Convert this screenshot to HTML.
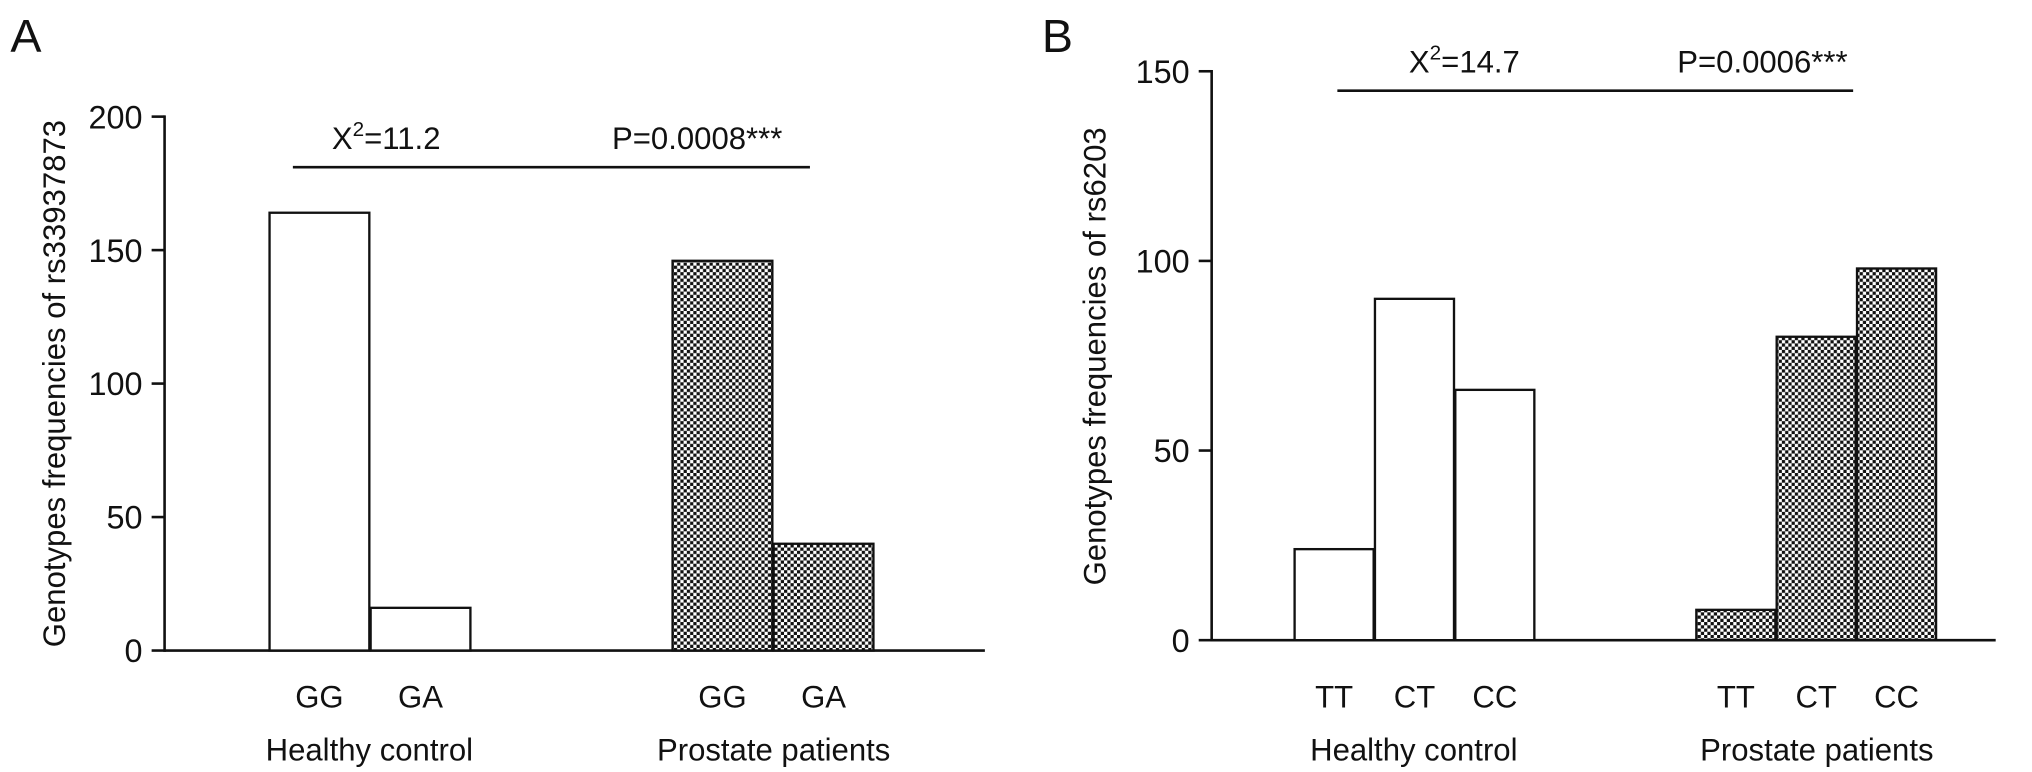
<!DOCTYPE html>
<html><head><meta charset="utf-8"><style>
html,body{margin:0;padding:0;background:#fff;}
svg{display:block;font-family:"Liberation Sans",Arial,sans-serif;}
</style></head><body>
<svg id="fig" width="2032" height="772" viewBox="0 0 2032 772" xmlns="http://www.w3.org/2000/svg">
<defs>
<pattern id="chk" width="5" height="5" patternUnits="userSpaceOnUse">
<rect width="5" height="5" fill="#fff"/>
<rect width="2.5" height="2.5" fill="#111"/>
<rect x="2.5" y="2.5" width="2.5" height="2.5" fill="#111"/>
</pattern>
</defs>
<g id="root" transform="scale(1.2959)"></g>
</svg>
<script>
const NS='http://www.w3.org/2000/svg';
const svg=document.getElementById('root');
// Panel A data
const aCats=['GG','GA','GG','GA'];
const aValues=[164,16,146,40];
const aTicks=[0,50,100,150,200];
// Panel B data
const bCats=['TT','CT','CC','TT','CT','CC'];
const bValues=[24,90,66,8,80,98];
const bTicks=[0,50,100,150];

function el(tag,attrs,parent){const e=document.createElementNS(NS,tag);for(const k in attrs)e.setAttribute(k,attrs[k]);(parent||svg).appendChild(e);return e;}
function txt(x,y,s,size,anchor,parent){const t=el('text',{x:x,y:y,'font-size':size,'text-anchor':anchor||'middle',fill:'#111'},parent);t.textContent=s;return t;}

function panel(cfg){
  const g=el('g',{});
  
  
  const y=v=>cfg.y0-(v/cfg.max)*(cfg.y0-cfg.yTop);
  const lt=txt(cfg.letterX,40,cfg.letter,36,'start',g);
  
  
  const ya=el('line',{x1:cfg.ax,y1:y(cfg.max)-1,x2:cfg.ax,y2:cfg.y0+1,stroke:'#111','stroke-width':2},g);
  
  
  cfg.ticks.forEach(t=>{
    el('line',{x1:cfg.ax-10,y1:y(t),x2:cfg.ax,y2:y(t),stroke:'#111','stroke-width':2},g);
    const l=txt(cfg.ax-17,y(t)+9,String(t),25,'end',g);
    
    
  });
  const xa=el('line',{x1:cfg.ax,y1:cfg.y0,x2:cfg.axEnd,y2:cfg.y0,stroke:'#111','stroke-width':2},g);
  
  
  const yt=txt(0,0,cfg.ytitle,24,'middle',g);
  yt.setAttribute('transform','translate('+cfg.ytX+','+cfg.ytY+') rotate(-90)');
  
  
  cfg.values.forEach((v,i)=>{
    const x=cfg.barX[i];
    const r=el('rect',{x:x,y:y(v),width:cfg.bw,height:cfg.y0-y(v),fill:i<cfg.nHealthy?'#fff':'url(#chk)',stroke:'#111','stroke-width':1.8},g);
    
    
    const l=txt(x+cfg.bw/2,546,cfg.cats[i],24,'middle',g);
    
    
  });
  const g1=txt(cfg.grp1,587,'Healthy control',24,'middle',g);
  
  
  const g2=txt(cfg.grp2,587,'Prostate patients',24,'middle',g);
  
  
  const sl=el('line',{x1:cfg.sx1,y1:cfg.sy,x2:cfg.sx2,y2:cfg.sy,stroke:'#111','stroke-width':2},g);
  
  
  const chi=el('text',{x:cfg.chiX,y:cfg.sy-14,'font-size':24,'text-anchor':'middle',fill:'#111'},g);
  chi.innerHTML='X<tspan dy="-10" font-size="16">2</tspan><tspan dy="10">='+cfg.chi+'</tspan>';
  
  
  const p=txt(cfg.pX,cfg.sy-14,cfg.p,24,'middle',g);
  
  
}
panel({name:'panel-a',letter:'A',letterX:8,cats:aCats,values:aValues,ticks:aTicks,max:200,ax:127,axEnd:760,y0:502,yTop:90,
  ytitle:'Genotypes frequencies of rs33937873',ytX:50,ytY:296,barX:[208,286,519,597],bw:77,nHealthy:2,
  grp1:285,grp2:597,sx1:226,sx2:625,sy:129,chiX:298,chi:'11.2',pX:538,p:'P=0.0008***'});
panel({name:'panel-b',letter:'B',letterX:804,cats:bCats,values:bValues,ticks:bTicks,max:150,ax:935,axEnd:1540,y0:494,yTop:55,
  ytitle:'Genotypes frequencies of rs6203',ytX:853,ytY:275,barX:[999,1061,1123,1309,1371,1433],bw:61,nHealthy:3,
  grp1:1091,grp2:1402,sx1:1032,sx2:1430,sy:70,chiX:1130,chi:'14.7',pX:1360,p:'P=0.0006***'});
</script>
</body></html>
